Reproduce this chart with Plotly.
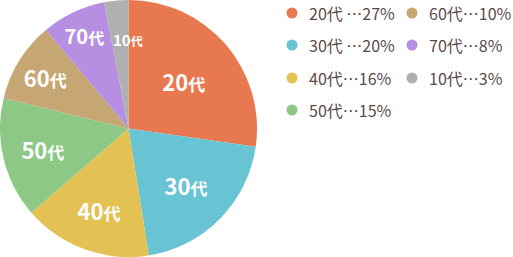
import math
import plotly.graph_objects as go

labels = ["20代", "30代", "40代", "50代", "60代", "70代", "10代"]
values = [27, 20, 16, 15, 10, 8, 3]
colors = ["#E8784F", "#68C4D2", "#E3C253", "#8DC886", "#C6A673", "#B68FE3", "#B0B0B0"]
nums = ["20", "30", "40", "50", "60", "70", "10"]
legend_texts = ["20代 …27%", "30代 …20%", "40代…16%", "50代…15%",
                "60代…10%", "70代…8%", "10代…3%"]

W, H = 513, 257
FONT = "Noto Sans CJK JP"
R = 128.5
CX, CY = 128.5, 128.5


def lbl(n, big, small):
    return f"<span style='font-size:{big}px'>{n}</span><span style='font-size:{small}px'>代</span>"


slice_text = []
for n, v in zip(nums, values):
    if v >= 10:
        slice_text.append(lbl(n, 22, 17))
    elif v >= 5:
        slice_text.append(lbl(n, 20, 16))
    else:
        slice_text.append("")

fig = go.Figure(go.Pie(
    labels=labels, values=values, sort=False, direction="clockwise", rotation=0,
    marker=dict(colors=colors, line=dict(width=0)),
    text=slice_text, texttemplate="%{text}", textposition="inside",
    insidetextorientation="horizontal",
    textfont=dict(family=FONT, color="white", size=22, weight="bold"),
    domain=dict(x=[0, 257 / W], y=[0, 1]),
    showlegend=False, hoverinfo="label+percent",
))

# small slices: label placed near the slice's outer end (angle computed from values)
total = sum(values)
cum = 0
for n, v in zip(nums, values):
    cum += v
    end = cum / total * 2 * math.pi
    if v < 5:
        r = 0.69 * R
        px = CX + r * math.sin(end)
        py = CY - r * math.cos(end)
        fig.add_annotation(x=px / W, y=1 - py / H, xref="paper", yref="paper",
                           text=lbl(n, 15, 12), showarrow=False,
                           xanchor="center", yanchor="middle",
                           font=dict(family=FONT, size=15, color="white", weight="bold"))

# manual two-column legend (column-wise order)
col_x = [292, 412]
row_y = [13, 45, 78, 110]
for i, (t, c) in enumerate(zip(legend_texts, colors)):
    col, row = divmod(i, 4)
    cx, cy = col_x[col], row_y[row]
    fig.add_shape(type="circle", xref="paper", yref="paper",
                  x0=(cx - 5.5) / W, x1=(cx + 5.5) / W,
                  y0=1 - (cy + 5.5) / H, y1=1 - (cy - 5.5) / H,
                  fillcolor=c, line=dict(width=0))
    fig.add_annotation(x=(cx + 15) / W, y=1 - cy / H, xref="paper", yref="paper",
                       text=t, showarrow=False, xanchor="left", yanchor="middle",
                       font=dict(family=FONT, size=16, color="#5B4B4B"))

fig.update_layout(width=W, height=H, margin=dict(l=0, r=0, t=0, b=0),
                  paper_bgcolor="white", plot_bgcolor="white")
fig.write_html("out.html")
